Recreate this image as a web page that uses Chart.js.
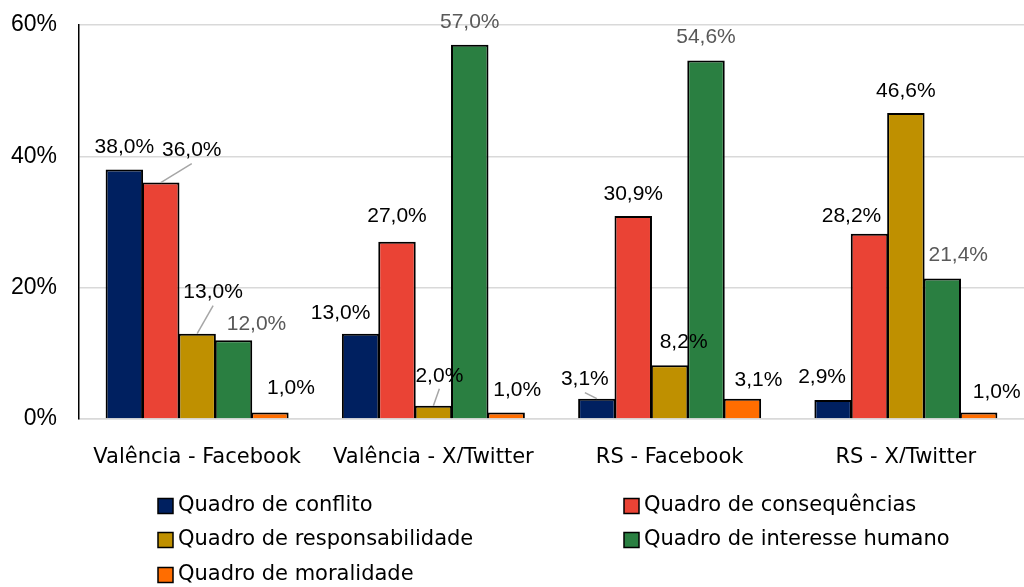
<!DOCTYPE html>
<html>
<head>
<meta charset="utf-8">
<script src="https://cdn.jsdelivr.net/npm/chart.js@4"></script>
<style>
  body { margin: 0; background: #fff; }
  canvas { display: block; }
</style>
</head>
<body>
<canvas id="framesChart" width="1024" height="587"></canvas>
<script>
'use strict'

// dados
const categories = ['Valência - Facebook', 'Valência - X/Twitter', 'RS - Facebook', 'RS - X/Twitter'];
const frameNames = ['Quadro de conflito', 'Quadro de consequências', 'Quadro de responsabilidade', 'Quadro de interesse humano', 'Quadro de moralidade'];
const conflito = [38.0, 13.0, 3.1, 2.9];
const consequencias = [36.0, 27.0, 30.9, 28.2];
const responsabilidade = [13.0, 2.0, 8.2, 46.6];
const interesse = [12.0, 57.0, 54.6, 21.4];
const moralidade = [1.0, 1.0, 3.1, 1.0];
const yTicks = [0, 20, 40, 60];

const colors = ['#002060', '#EA4335', '#BF9000', '#2A7F41', '#FF6D00'];
const labelColors = ['#000', '#000', '#000', '#595959', '#000'];

// deslocamento dos rótulos (dx, dy) como no original
const labelNudge = [
  [[0, 0], [-20, 2], [-12, 3], [-11, -1]],
  [[31, -10], [0, -3], [0, 0], [-18, 4]],
  [[16, -19], [6, -8], [14, -1], [0, 0]],
  [[23, 6], [0, 0], [0, -1], [16, -1]],
  [[21, -2], [11, 0], [16, 4], [18, 2]],
];
// rótulos com linha de chamada: [dataset, categoria]
const leaders = [[1, 0], [2, 0], [2, 1], [0, 2]];

const pct = v => v.toFixed(1).replace('.', ',') + '%';

const barLabels = {
  id: 'barLabels',
  afterDatasetsDraw(chart) {
    const c = chart.ctx;
    c.save();
    c.font = '21px "Liberation Sans", Arial, sans-serif';
    c.textAlign = 'center';
    c.textBaseline = 'middle';
    chart.data.datasets.forEach((ds, i) => {
      chart.getDatasetMeta(i).data.forEach((bar, j) => {
        const [dx, dy] = labelNudge[i][j];
        const lx = bar.x + dx;
        const ly = bar.y - 22 + dy;
        if (leaders.some(l => l[0] === i && l[1] === j)) {
          c.strokeStyle = '#a6a6a6';
          c.lineWidth = 1.5;
          c.beginPath();
          c.moveTo(bar.x, bar.y);
          c.lineTo(lx, ly + 13);
          c.stroke();
        }
        c.fillStyle = labelColors[i];
        c.fillText(pct(ds.data[j]), lx, ly);
      });
    });
    c.restore();
  },
  afterDraw(chart) {
    // legenda em duas colunas
    const c = chart.ctx;
    const cols = [158, 624];
    const rows = [506, 540, 575];
    c.save();
    c.font = '21px "DejaVu Sans", Verdana, sans-serif';
    c.textBaseline = 'middle';
    chart.data.datasets.forEach((ds, i) => {
      const x = cols[i % 2];
      const y = rows[Math.floor(i / 2)];
      c.fillStyle = ds.backgroundColor;
      c.fillRect(x, y - 7.5, 15, 15);
      c.strokeStyle = '#000';
      c.lineWidth = 1.5;
      c.strokeRect(x, y - 7.5, 15, 15);
      c.fillStyle = '#000';
      c.fillText(ds.label, x + 20, y);
    });
    c.restore();
  }
};

const series = [conflito, consequencias, responsabilidade, interesse, moralidade];

const ctx = document.getElementById('framesChart');
const myChart = new Chart(ctx, {
  type: 'bar',
  data: {
    labels: categories,
    datasets: series.map((d, i) => ({
      label: frameNames[i],
      data: d,
      backgroundColor: colors[i],
      borderColor: '#000',
      borderWidth: 2,
      categoryPercentage: 0.77,
      barPercentage: 1.03,
    })),
  },
  options: {
    responsive: false,
    animation: false,
    layout: {
      padding: { top: 25, right: 0, bottom: 124, left: 0 }
    },
    scales: {
      x: {
        grid: { display: false },
        border: { color: '#d9d9d9', width: 1.5 },
        ticks: {
          color: '#000',
          padding: 18,
          maxRotation: 0,
          font: { family: '"DejaVu Sans", Verdana, sans-serif', size: 21 },
        },
        afterFit: s => { s.height = 44; },
      },
      y: {
        min: 0,
        max: 60,
        afterBuildTicks: s => { s.ticks = yTicks.map(v => ({ value: v })); },
        grid: { color: '#d9d9d9', lineWidth: 1.5, tickLength: 19, tickColor: 'rgba(0,0,0,0)' },
        border: { color: '#000', width: 1.5 },
        ticks: {
          color: '#000',
          padding: 3,
          font: { family: '"Liberation Sans", Arial, sans-serif', size: 23 },
          callback: v => v + '%',
        },
        afterFit: s => { s.width = 79; },
      }
    },
    plugins: {
      legend: { display: false },
      tooltip: { enabled: false },
    }
  },
  plugins: [barLabels]
});
</script>
</body>
</html>
